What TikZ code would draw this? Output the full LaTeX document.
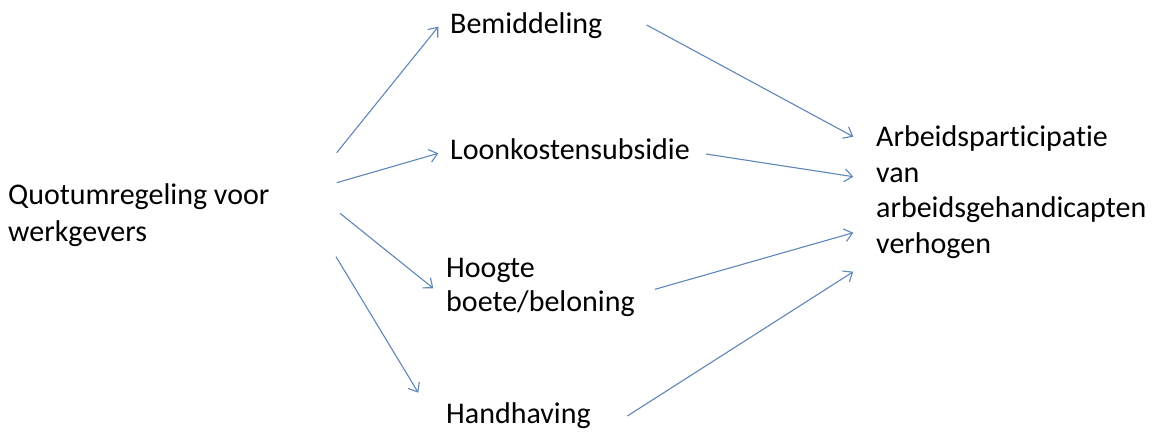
\documentclass[tikz,border=0pt]{standalone}
\usepackage{fontspec}
\setmainfont{Carlito}[Ligatures={NoCommon}]
\usetikzlibrary{arrows.meta}
\definecolor{arrowblue}{RGB}{96,134,186}
\begin{document}
\begin{tikzpicture}[x=1pt,y=-1pt,
  lbl/.style={inner sep=0pt, anchor=base west, align=left,
    font=\fontsize{30}{36}\selectfont, text=black},
  conn/.style={draw=arrowblue, line width=1.1pt,
    -{Straight Barb[length=8pt,width=13pt,line width=1.1pt]}}]
\useasboundingbox[fill=white] (0,0) rectangle (1161,432);
% base anchor of a multi-line node = baseline of its last line
\node[lbl, font=\fontsize{30}{37.7}\selectfont] (q) at (8,241.7) {Quotumregeling voor\\werkgevers};
\node[lbl] (bem) at (450,33) {Bemiddeling};
\node[lbl] (loon) at (450,159.5) {Loonkostensubsidie};
\node[lbl, font=\fontsize{30}{34.4}\selectfont] (hoog) at (446,311.7) {Hoogte\\boete/beloning};
\node[lbl] (hand) at (446,423.5) {Handhaving};
\node[lbl, font=\fontsize{30}{35.5}\selectfont] (arb) at (876,253) {Arbeidsparticipatie\\van\\arbeidsgehandicapten\\verhogen};
% connector ends
\coordinate (q1) at (336.7,152.7);
\coordinate (q2) at (336.7,182.7);
\coordinate (q3) at (340,213.3);
\coordinate (q4) at (336,256.7);
\coordinate (bemin) at (438.3,26.7);
\coordinate (loonin) at (438.3,153.3);
\coordinate (hoogin) at (433.3,288.3);
\coordinate (handin) at (418.3,392.7);
\coordinate (bemout) at (646.7,25);
\coordinate (loonout) at (706,154);
\coordinate (hoogout) at (655,289.3);
\coordinate (handout) at (627.3,416);
\coordinate (arb1) at (853.3,136.7);
\coordinate (arb2) at (853.3,176.7);
\coordinate (arb3) at (853.3,232.7);
\coordinate (arb4) at (853.3,271.7);
\draw[conn] (q1) -- (bemin);
\draw[conn] (q2) -- (loonin);
\draw[conn] (q3) -- (hoogin);
\draw[conn] (q4) -- (handin);
\draw[conn] (bemout) -- (arb1);
\draw[conn] (loonout) -- (arb2);
\draw[conn] (hoogout) -- (arb3);
\draw[conn] (handout) -- (arb4);
\end{tikzpicture}
\end{document}
